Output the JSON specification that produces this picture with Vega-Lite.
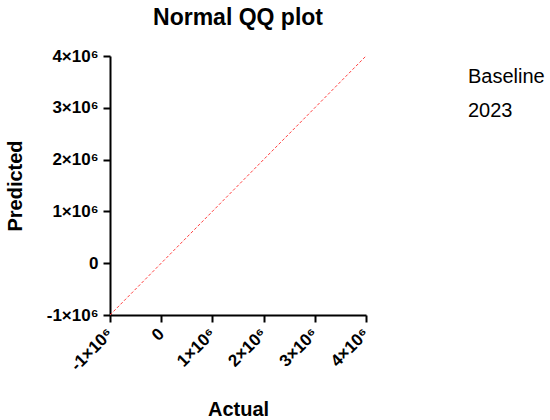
{
  "$schema": "https://vega.github.io/schema/vega-lite/v6.json",
  "autosize": {"type": "none"},
  "padding": {"left": 110, "top": 56, "right": 184, "bottom": 105},
  "width": 256,
  "height": 259,
  "config": {"font": "Liberation Sans", "view": {"stroke": null}},
  "title": {"text": "Normal QQ plot", "fontSize": 23, "fontWeight": "bold", "color": "black", "anchor": "middle", "baseline": "alphabetic", "offset": -1},
  "layer": [
    {
      "data": {"values": [
        {"actual": -1000000, "predicted": -1000000},
        {"actual": 4000000, "predicted": 4000000}
      ]},
      "mark": {"type": "line", "color": "#ff4040", "strokeWidth": 1, "strokeDash": [3, 2]},
      "encoding": {
        "x": {
          "field": "actual", "type": "quantitative", "title": "Actual",
          "scale": {"domain": [-1000000, 4000000], "nice": false, "zero": false},
          "axis": {
            "values": [-1000000, 0, 1000000, 2000000, 3000000, 4000000],
            "labelExpr": "datum.value == 0 ? '0' : (datum.value < 0 ? '-' : '') + abs(datum.value / 1000000) + '×10⁶'",
            "grid": false, "domainColor": "black", "domainWidth": 2, "tickColor": "black", "tickWidth": 2, "tickSize": 7,
            "labelAngle": -45, "labelAlign": "right", "labelBaseline": "middle", "labelFontSize": 17, "labelFontWeight": "bold", "labelColor": "black", "labelPadding": 9,
            "titleFontSize": 20, "titleFontWeight": "bold", "titleColor": "black", "titleX": 128, "titleY": 100, "titleBaseline": "alphabetic"
          }
        },
        "y": {
          "field": "predicted", "type": "quantitative", "title": "Predicted",
          "scale": {"domain": [-1000000, 4000000], "nice": false, "zero": false},
          "axis": {
            "values": [-1000000, 0, 1000000, 2000000, 3000000, 4000000],
            "labelExpr": "datum.value == 0 ? '0' : (datum.value < 0 ? '-' : '') + abs(datum.value / 1000000) + '×10⁶'",
            "grid": false, "domainColor": "black", "domainWidth": 2, "tickColor": "black", "tickWidth": 2, "tickSize": 7,
            "labelFontSize": 17, "labelFontWeight": "bold", "labelColor": "black", "labelPadding": 5,
            "titleFontSize": 20, "titleFontWeight": "bold", "titleColor": "black", "titleX": -95, "titleY": 129.5, "titleAngle": 270, "titleBaseline": "middle", "titleAlign": "center"
          }
        }
      }
    },
    {
      "data": {"values": [
        {"series": "Baseline"},
        {"series": "2023"}
      ]},
      "mark": {"type": "point", "opacity": 0},
      "encoding": {
        "color": {
          "field": "series", "type": "nominal", "title": null,
          "scale": {"domain": ["Baseline", "2023"], "range": ["#000000", "#000000"]},
          "legend": {
            "orient": "none", "legendX": 338, "legendY": 11,
            "symbolSize": 0, "symbolOpacity": 0, "symbolStrokeWidth": 0, "labelOffset": 0,
            "labelFontSize": 20, "labelColor": "black", "rowPadding": 14, "labelLimit": 200
          }
        }
      }
    }
  ]
}
